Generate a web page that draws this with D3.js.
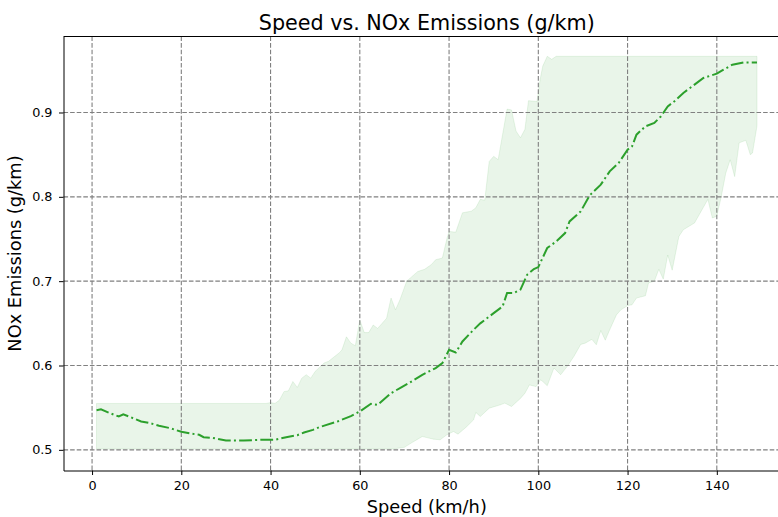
<!DOCTYPE html>
<html>
<head>
<meta charset="utf-8">
<script src="https://cdn.jsdelivr.net/npm/d3@7"></script>
<style>
  body { margin: 0; background: #fff; }
  svg { display: block; font-family: "DejaVu Sans", sans-serif; }
</style>
</head>
<body>
<svg id="chart"></svg>
<script>
// mean NOx line (speed km/h, g/km)
const meanSpeed = [1, 2, 4, 6, 7, 8.5, 11, 13, 15, 17.5, 20, 22.5, 24, 25, 27, 30, 34, 38, 41, 43.5,
  46, 47.5, 49.5, 51, 55, 58, 60, 62.5, 64, 67, 69, 71, 74, 77, 78.5, 80, 81.5, 83, 85.5, 87,
  90, 92, 93, 94.5, 96, 97.5, 99, 100, 102, 104, 106, 107, 109.5, 111.5, 114, 116, 118, 120, 121, 122,
  124, 126, 127.5, 129, 130.5, 132.5, 135, 137, 140, 141.5, 143.5, 146, 149];
const meanNox = [0.547, 0.548, 0.5435, 0.5395, 0.542, 0.539, 0.5336, 0.5316, 0.5285, 0.5257, 0.5214, 0.519, 0.5178, 0.515, 0.5142, 0.511, 0.511, 0.512, 0.512, 0.515,
  0.5174, 0.5205, 0.5237, 0.527, 0.5336, 0.540, 0.5455, 0.5546, 0.5534, 0.5672, 0.5732, 0.5791, 0.589, 0.597, 0.6028, 0.6186, 0.6155, 0.6285, 0.6424, 0.650,
  0.6621, 0.670, 0.6859, 0.6859, 0.690, 0.7076, 0.7143, 0.7167, 0.7393, 0.7471, 0.757, 0.7708, 0.7827, 0.8017, 0.8144, 0.8302, 0.8401, 0.8559, 0.8598, 0.8737,
  0.8836, 0.8876, 0.8955, 0.9073, 0.9133, 0.9232, 0.933, 0.9409, 0.946, 0.9508, 0.9567, 0.9594, 0.9594];

// upper edge of the shaded band
const upperSpeed = [1, 39, 40, 41, 42, 43, 44, 45, 46, 47, 48, 49, 50, 52, 53, 55.5, 56, 57, 58, 59,
  60, 61, 62, 63, 64, 66, 67, 68, 69, 70.5, 73, 74.5, 76, 77, 78.5, 79.5, 80, 81.5, 83, 85,
  86, 87, 88, 89, 90, 91, 93, 94, 95, 96, 97, 97.8, 99.7, 100.4, 101, 102, 103, 104, 149];
const upperNox = [0.555, 0.555, 0.556, 0.555, 0.559, 0.569, 0.570, 0.581, 0.574, 0.585, 0.589, 0.585, 0.593, 0.603, 0.605, 0.6155, 0.6186, 0.634, 0.6265, 0.6234,
  0.654, 0.639, 0.639, 0.648, 0.644, 0.656, 0.680, 0.666, 0.678, 0.700, 0.7115, 0.714, 0.7195, 0.7254, 0.7274, 0.75, 0.759, 0.758, 0.781, 0.783,
  0.787, 0.797, 0.796, 0.842, 0.848, 0.844, 0.904, 0.903, 0.878, 0.870, 0.880, 0.914, 0.913, 0.939, 0.955, 0.9666, 0.963, 0.9666, 0.9666];

// lower edge of the shaded band
const lowerSpeed = [1, 60, 67.5, 70, 71.5, 73, 74, 75.5, 76.5, 78, 79.5, 81, 82, 84, 85.5, 86, 87, 89, 91.5, 92.5,
  94, 96, 97, 98, 99.5, 100.5, 101, 102, 103.5, 105, 106.5, 108, 109.5, 110.5, 112, 113, 114, 115, 116, 117.5,
  118.5, 120, 121, 122, 124, 124.7, 126, 127, 128, 129, 130, 131.5, 132.5, 135, 136.5, 138, 139, 140, 141, 142,
  143, 144, 145, 146.5, 147.5, 148, 149];
const lowerNox = [0.501, 0.501, 0.501, 0.503, 0.508, 0.5127, 0.5158, 0.5139, 0.5127, 0.5119, 0.5178, 0.5217, 0.5186, 0.5277, 0.5356, 0.5443, 0.5395, 0.5494, 0.5534, 0.5554,
  0.5514, 0.561, 0.5672, 0.577, 0.575, 0.583, 0.581, 0.576, 0.597, 0.589, 0.599, 0.611, 0.625, 0.6265, 0.631, 0.6246, 0.6415, 0.630, 0.6424, 0.660,
  0.666, 0.671, 0.672, 0.680, 0.6827, 0.698, 0.700, 0.714, 0.7025, 0.731, 0.713, 0.753, 0.761, 0.769, 0.783, 0.797, 0.775, 0.777, 0.8005, 0.828,
  0.844, 0.824, 0.864, 0.867, 0.850, 0.852, 0.884];

const xTicks = [0, 20, 40, 60, 80, 100, 120, 140];
const yTicks = [0.5, 0.6, 0.7, 0.8, 0.9];

const WIDTH = 778;
const HEIGHT = 517;
const PLOT = { LEFT: 63.5, RIGHT: 790, TOP: 36.5, BOTTOM: 470.5 };
const GREEN = "#2ca02c";

let svg = d3.select("#chart")
  .attr("width", WIDTH)
  .attr("height", HEIGHT);

let xScale = d3.scaleLinear()
  .domain([-6.4, 156.4])
  .range([PLOT.LEFT, PLOT.RIGHT]);
let yScale = d3.scaleLinear()
  .domain([0.4755, 0.9901])
  .range([PLOT.BOTTOM, PLOT.TOP]);

// shaded band: upper edge forward, lower edge back
let bandPts = upperSpeed.map((s, i) => [s, upperNox[i]])
  .concat(lowerSpeed.map((s, i) => [s, lowerNox[i]]).reverse());

let toPath = d3.line()
  .x(d => xScale(d[0]))
  .y(d => yScale(d[1]));

svg.append("path")
  .attr("d", toPath(bandPts) + "Z")
  .attr("fill", GREEN)
  .attr("fill-opacity", 0.1)
  .attr("stroke", GREEN)
  .attr("stroke-opacity", 0.1)
  .attr("stroke-width", 1);

// grid
let grid = svg.append("g")
  .attr("stroke", "#808080")
  .attr("stroke-width", 1.1)
  .attr("stroke-dasharray", "4.6,2");
grid.selectAll(".vx")
  .data(xTicks)
  .enter().append("line")
    .attr("x1", d => xScale(d)).attr("x2", d => xScale(d))
    .attr("y1", PLOT.TOP).attr("y2", PLOT.BOTTOM);
grid.selectAll(".hy")
  .data(yTicks)
  .enter().append("line")
    .attr("x1", PLOT.LEFT).attr("x2", PLOT.RIGHT)
    .attr("y1", d => yScale(d)).attr("y2", d => yScale(d));

// mean line
svg.append("path")
  .attr("d", toPath(meanSpeed.map((s, i) => [s, meanNox[i]])))
  .attr("fill", "none")
  .attr("stroke", GREEN)
  .attr("stroke-width", 2)
  .attr("stroke-dasharray", "12.8,3.2,2,3.2");

// axes
let xAxis = svg.append("g")
  .attr("transform", `translate(0,${PLOT.BOTTOM})`)
  .call(d3.axisBottom(xScale).tickValues(xTicks).tickSize(4.5).tickPadding(6).tickSizeOuter(0));
let yAxis = svg.append("g")
  .attr("transform", `translate(${PLOT.LEFT},0)`)
  .call(d3.axisLeft(yScale).tickValues(yTicks).tickFormat(d3.format(".1f")).tickSize(4.5).tickPadding(6.5).tickSizeOuter(0));

[xAxis, yAxis].forEach(a => {
  a.select(".domain").attr("stroke", "#000").attr("stroke-width", 1);
  a.selectAll(".tick line").attr("stroke", "#000").attr("stroke-width", 1);
  a.selectAll(".tick text")
    .attr("fill", "#000")
    .style("font-family", "'DejaVu Sans', sans-serif")
    .style("font-size", "12.8px");
});

// top spine
svg.append("line")
  .attr("x1", PLOT.LEFT).attr("x2", PLOT.RIGHT)
  .attr("y1", PLOT.TOP).attr("y2", PLOT.TOP)
  .attr("stroke", "#000").attr("stroke-width", 1);

// titles
svg.append("text")
  .attr("x", (PLOT.LEFT + PLOT.RIGHT) / 2)
  .attr("y", 30)
  .attr("text-anchor", "middle")
  .style("font-size", "20.7px")
  .text("Speed vs. NOx Emissions (g/km)");

svg.append("text")
  .attr("x", (PLOT.LEFT + PLOT.RIGHT) / 2)
  .attr("y", 513)
  .attr("text-anchor", "middle")
  .style("font-size", "17.8px")
  .text("Speed (km/h)");

svg.append("text")
  .attr("transform", `translate(21,${(PLOT.TOP + PLOT.BOTTOM) / 2}) rotate(-90)`)
  .attr("text-anchor", "middle")
  .style("font-size", "17.8px")
  .text("NOx Emissions (g/km)");
</script>
</body>
</html>
